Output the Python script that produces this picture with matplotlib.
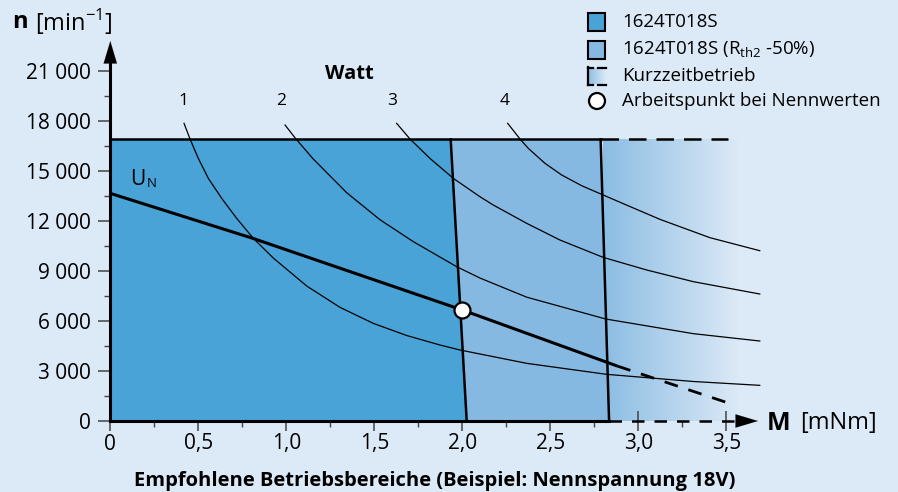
import numpy as np
import matplotlib
matplotlib.use("Agg")
import matplotlib.pyplot as plt
from matplotlib.colors import LinearSegmentedColormap
from matplotlib.patches import Polygon, Rectangle, Circle

plt.rcParams['font.family'] = ['Open Sans', 'DejaVu Sans']
plt.rcParams['mathtext.fontset'] = 'custom'
plt.rcParams['mathtext.rm'] = 'Open Sans'

# Farben
bg = '#dce9f6'
farbe1 = '#49a3d7'
farbe2 = '#85b9e1'

# Achsen
m_ticks = [0, 0.5, 1.0, 1.5, 2.0, 2.5, 3.0, 3.5]
m_labels = ["0", "0,5", "1,0", "1,5", "2,0", "2,5", "3,0", "3,5"]
n_ticks = [0, 3000, 6000, 9000, 12000, 15000, 18000, 21000]
n_labels = ["0", "3 000", "6 000", "9 000", "12 000", "15 000", "18 000", "21 000"]

# Betriebsbereiche (M oben, M unten)
n_max = 16900
bereich1_m = [1.934, 2.025]
bereich2_m = [2.786, 2.834]
kurzzeit_ende = 3.51

# Kennlinie U_N
un_m = [0, 0.81, 2.0, 2.88]
un_n = [13660, 10960, 6660, 3300]
un_dash_m = [2.88, 3.5]
un_dash_n = [3300, 1120]

# Arbeitspunkt
ap_m = 2.0
ap_n = 6660

# Leistungskurven (Watt)
w1_m = [0.419, 0.453, 0.500, 0.557, 0.633, 0.718, 0.8125, 0.926, 1.116, 1.305, 1.494, 1.684, 1.873, 1.987, 2.366, 2.82, 3.313, 3.69]
w1_n = [17860, 16920, 15760, 14560, 13360, 12160, 10960, 9780, 8100, 6820, 5860, 5130, 4560, 4260, 3460, 2800, 2370, 2140]
w2_m = [0.993, 1.049, 1.153, 1.343, 1.532, 1.722, 1.968, 2.10, 2.366, 2.815, 3.313, 3.69]
w2_n = [17760, 17000, 15720, 13700, 12080, 10760, 9260, 8580, 7430, 6120, 5240, 4800]
w3_m = [1.627, 1.703, 1.816, 1.949, 2.10, 2.176, 2.366, 2.555, 2.80, 3.048, 3.313, 3.69]
w3_n = [17860, 16920, 15760, 14560, 13460, 12960, 11860, 10860, 9820, 9060, 8360, 7620]
w4_m = [2.258, 2.328, 2.375, 2.470, 2.565, 2.678, 2.792, 2.915, 3.123, 3.407, 3.69]
w4_n = [17860, 16920, 16360, 15460, 14760, 14120, 13600, 13040, 12100, 11000, 10220]
watt_labels = ["1", "2", "3", "4"]
watt_label_m = [0.413, 0.97, 1.60, 2.24]

fig = plt.figure(figsize=(8.98, 4.92), dpi=100, facecolor=bg)
ax = fig.add_axes([110.3 / 898, 71 / 492, 3.7 * 176 / 898, 383.3 / 492])
ax.set_xlim(0, 3.7)
ax.set_ylim(0, 23000)
ax.patch.set_alpha(0)
for s in ax.spines.values():
    s.set_visible(False)

# Verlauf fuer Kurzzeitbetrieb
cmap = LinearSegmentedColormap.from_list('kz', ['#8bbde3', bg])
grad = np.linspace(0, 1, 256).reshape(1, -1)
ax.imshow(grad, extent=[2.80, 3.57, 0, n_max], aspect='auto', cmap=cmap, zorder=1)

# Bereiche
ax.add_patch(Polygon([(0, 0), (0, n_max), (bereich1_m[0], n_max), (bereich1_m[1], 0)],
                     closed=True, facecolor=farbe1, edgecolor='none', zorder=3))
ax.add_patch(Polygon([(bereich1_m[1], 0), (bereich1_m[0], n_max), (bereich2_m[0], n_max), (bereich2_m[1], 0)],
                     closed=True, facecolor=farbe2, edgecolor='none', zorder=2))
ax.plot([bereich1_m[0], bereich1_m[1]], [n_max, 0], color='k', lw=1.8, zorder=5)
ax.plot([bereich2_m[0], bereich2_m[1]], [n_max, 0], color='k', lw=1.8, zorder=5)
ax.plot([0, bereich2_m[0]], [n_max, n_max], color='k', lw=1.8, zorder=5)
ax.plot([bereich2_m[0], kurzzeit_ende], [n_max, n_max], color='k', lw=1.8, ls=(0, (7, 4)), zorder=5)

# Watt-Kurven
for wm, wn in [(w1_m, w1_n), (w2_m, w2_n), (w3_m, w3_n), (w4_m, w4_n)]:
    ax.plot(wm, wn, color='k', lw=0.9, zorder=6)
for lab, lm in zip(watt_labels, watt_label_m):
    ax.text(lm, 19200, lab, ha='center', va='center', fontsize=12.5, zorder=7)
ax.text(1.36, 20800, "Watt", ha='center', va='center', fontsize=14.5, fontweight='bold')

# U_N Kennlinie
ax.plot(un_m, un_n, color='k', lw=2.2, zorder=7, solid_capstyle='butt')
ax.plot(un_dash_m, un_dash_n, color='k', lw=2.0, ls=(0, (5, 4)), zorder=7)
ax.text(0.11, 14500, "U", ha='left', va='center', fontsize=15, zorder=7)
ax.text(0.205, 14280, "N", ha='left', va='center', fontsize=9.5, zorder=7)
ax.plot([ap_m], [ap_n], marker='o', ms=11.5, mfc='white', mec='k', mew=1.6, zorder=9)

# Achsen mit Pfeilen
ax.plot([0, bereich2_m[1]], [0, 0], color='k', lw=2.2, zorder=8, clip_on=False)
ax.plot([bereich2_m[1], 3.58], [0, 0], color='k', lw=1.8, ls=(0, (5, 4)), zorder=8, clip_on=False)
ax.annotate('', xy=(3.68, 0), xytext=(3.57, 0),
            arrowprops=dict(arrowstyle='-|>,head_length=1.0,head_width=0.3', color='k', lw=0.1,
                            mutation_scale=16, shrinkA=0, shrinkB=0), zorder=8, annotation_clip=False)
ax.plot([0, 0], [0, 21500], color='k', lw=2.2, zorder=8, clip_on=False)
ax.annotate('', xy=(0, 22800), xytext=(0, 21400),
            arrowprops=dict(arrowstyle='-|>,head_length=1.0,head_width=0.3', color='k', lw=0.1,
                            mutation_scale=16, shrinkA=0, shrinkB=0), zorder=8, annotation_clip=False)

ax.set_xticks(m_ticks)
ax.set_xticklabels(m_labels)
ax.set_xticks([0.25, 0.75, 1.25, 1.75, 2.25, 2.75, 3.25], minor=True)
ax.set_yticks(n_ticks)
ax.set_yticklabels(n_labels)
ax.set_yticks([1500, 4500, 7500, 10500, 13500, 16500, 19500], minor=True)
ax.tick_params(axis='x', which='major', direction='inout', length=14, width=1.1, color='#444444',
               labelsize=15, pad=2)
ax.tick_params(axis='x', which='minor', direction='out', length=4, width=1.0, color='#444444')
ax.tick_params(axis='y', which='major', direction='out', length=9, width=1.1, color='#444444',
               labelsize=15, pad=5)
ax.tick_params(axis='y', which='minor', direction='out', length=4, width=1.0, color='#444444')

# Overlay in Pixelkoordinaten fuer Beschriftungen und Legende
ov = fig.add_axes([0, 0, 1, 1])
ov.set_xlim(0, 898)
ov.set_ylim(492, 0)
ov.axis('off')
ov.patch.set_alpha(0)

ov.text(12, 22, "n", fontsize=17, fontweight='bold', va='center', ha='left')
ov.text(35, 22, r"[min$^{\mathregular{-1}}$]", fontsize=17, va='center', ha='left')
ov.text(767, 423, "M", fontsize=18, fontweight='bold', va='center', ha='left')
ov.text(800, 423, "[mNm]", fontsize=17, va='center', ha='left')
ov.text(435, 481, "Empfohlene Betriebsbereiche (Beispiel: Nennspannung 18V)",
        fontsize=14.5, fontweight='bold', ha='center', va='center')

# Legende
ov.add_patch(Rectangle((588, 13), 17, 18, facecolor=farbe1, edgecolor='k', lw=1.5))
ov.add_patch(Rectangle((588, 41), 17, 18, facecolor=farbe2, edgecolor='k', lw=1.5))
ov.imshow(grad, extent=[588, 606, 84, 68], aspect='auto', cmap=cmap, zorder=2)
ov.plot([588, 588], [67, 85], color='k', lw=1.6, zorder=3)
for yy in [67.5, 84.5]:
    ov.plot([588, 593], [yy, yy], color='k', lw=1.6, zorder=3)
    ov.plot([598, 606], [yy, yy], color='k', lw=1.6, zorder=3)
ov.add_patch(Circle((597, 101), 8, facecolor='white', edgecolor='k', lw=1.6, zorder=3))
ov.set_xlim(0, 898)
ov.set_ylim(492, 0)

ov.text(622, 22, "1624T018S", fontsize=13.5, va='center', ha='left')
ov.text(622, 50, r"1624T018S (R$_{\mathregular{th2}}$ -50%)", fontsize=13.5, va='center', ha='left')
ov.text(622, 76, "Kurzzeitbetrieb", fontsize=13.5, va='center', ha='left')
ov.text(622, 101, "Arbeitspunkt bei Nennwerten", fontsize=13.5, va='center', ha='left')

fig.savefig("out.png", dpi=100, facecolor=bg)
